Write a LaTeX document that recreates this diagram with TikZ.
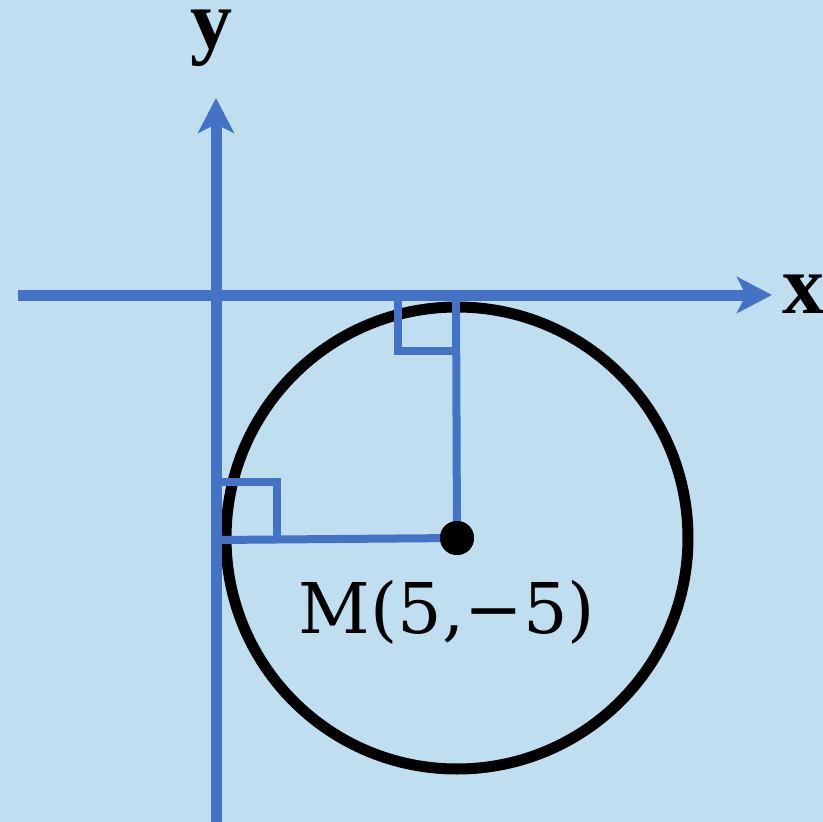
\documentclass[tikz,border=0pt]{standalone}
\usepackage{fontspec}
\usepackage{tikz}
\usetikzlibrary{arrows.meta,positioning,calc}
\newfontfamily\lblfont{Liberation Serif}
\newfontfamily\ptfont{DejaVu Serif}
\definecolor{bg}{HTML}{BFDFF0}
\definecolor{ax}{HTML}{4472C4}
\definecolor{rd}{HTML}{000000}

\begin{document}
\begin{tikzpicture}[x=1pt,y=-1pt,
  axis/.style={ax, line width=11pt, -{Stealth[length=35pt,width=36pt,inset=9pt]}},
  aux/.style={ax, line width=8pt, line join=miter},
  circ/.style={rd, line width=11pt},
  axlabel/.style={anchor=base, font=\lblfont\bfseries\fontsize{84}{90}\selectfont, inner sep=0pt}]
  \fill[bg] (0,0) rectangle (823,822);
  \useasboundingbox (0,0) rectangle (823,822);
  % points
  \coordinate (O) at (216,295);
  \coordinate (Xs) at (18,295);
  \coordinate (Xe) at (772,295);
  \coordinate (Ys) at (216,822);
  \coordinate (Ye) at (216,98);
  \coordinate (T) at (456,295);
  \coordinate (L) at (216,540);
  \node[circle, fill=rd, minimum size=34pt, inner sep=0pt] (M) at (457,538) {};
  % circle
  \draw[circ] (M.center) circle[radius=231];
  % radii and right angles
  \draw[aux] (T) -- (M.center);
  \draw[aux] (L) -- (M.center);
  \draw[aux] (398,295) -- (398,351) -- (456,351);
  \draw[aux] (216,482) -- (277,482) -- (277,540);
  \node[circle, fill=rd, minimum size=34pt, inner sep=0pt] at (M) {};
  % axes
  \draw[axis] (Xs) -- (Xe);
  \draw[axis] (Ys) -- (Ye);
  \node[axlabel] (xl) at (803,313) {x};
  \node[axlabel] (yl) at (211,48) {y};
  \node[anchor=base, inner sep=0pt, font=\ptfont\fontsize{70}{76}\selectfont] (Ml) at (447,633) {M(5,−5)};
\end{tikzpicture}
\end{document}
